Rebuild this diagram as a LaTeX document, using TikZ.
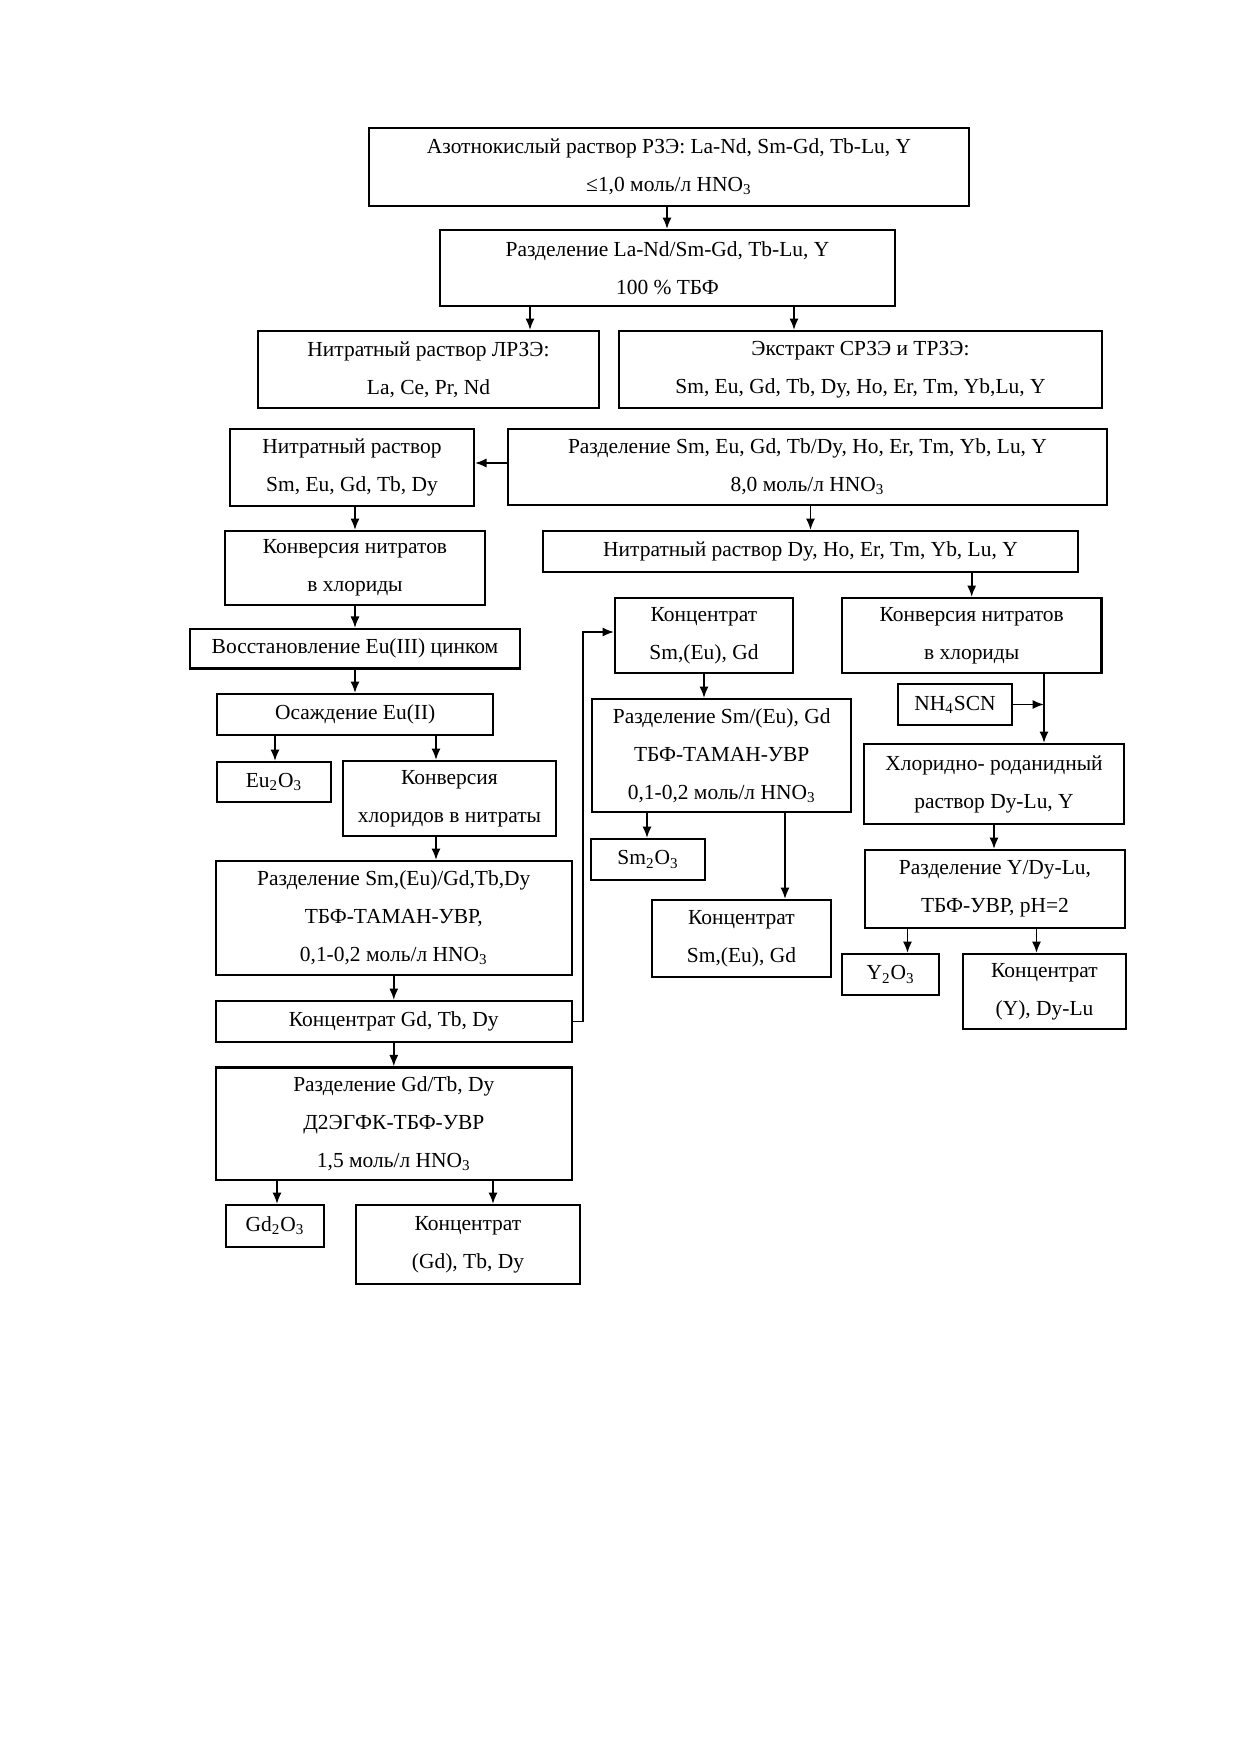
\documentclass[tikz,border=0pt]{standalone}
\usepackage{fontspec}
\setmainfont{Liberation Serif}
\usetikzlibrary{arrows.meta}

\begin{document}
\begin{tikzpicture}[x=0.48pt, y=-0.48pt, >={Latex[length=5.5pt,width=4.4pt]},
    blk/.style 2 args={draw, line width=1pt, minimum width=#1*0.48pt,
        minimum height=#2*0.48pt, inner sep=0pt, align=center,
        font=\fontsize{10.3}{18.2}\selectfont},
    arr/.style={->, line width=0.9pt}]

            \useasboundingbox (0,0) rectangle (1240,1754);

            \node[blk={600}{78}] (src) at (669,167)
            {Азотнокислый раствор РЗЭ: La-Nd, Sm-Gd, Tb-Lu, Y\\ ≤1,0 моль/л HNO\textsubscript{3}};
            \node[blk={455}{76}] (sepa) at (667.5,268)
            {Разделение La-Nd/Sm-Gd, Tb-Lu, Y\\ 100 \% ТБФ};
            \node[blk={341}{77}] (lrze) at (428.5,369.5)
            {Нитратный раствор ЛРЗЭ:\\ La, Ce, Pr, Nd};
            \node[blk={483}{77}] (extr) at (860.5,369.5)
            {Экстракт СРЗЭ и ТРЗЭ:\\ Sm, Eu, Gd, Tb, Dy, Ho, Er, Tm, Yb,Lu, Y};

            \node[blk={244}{77}] (nitr) at (352,467.5)
            {Нитратный раствор\\ Sm, Eu, Gd, Tb, Dy};
            \node[blk={599}{76}] (sepb) at (807.5,467)
            {Разделение Sm, Eu, Gd, Tb/Dy, Ho, Er, Tm, Yb, Lu, Y\\ 8,0 моль/л HNO\textsubscript{3}};
            \node[blk={535}{41}] (nitrdy) at (810.5,551.5)
            {Нитратный раствор Dy, Ho, Er, Tm, Yb, Lu, Y};

            % left column
            \node[blk={260}{74}] (convl) at (355,568)
            {Конверсия нитратов\\ в хлориды};
            \node[blk={330}{39.5}] (redeu) at (355,648.7)
            {Восстановление Eu(III) цинком};
            \node[blk={275.5}{41}] (preceu) at (355.2,714.5)
            {Осаждение Eu(II)};
            \node[blk={114}{40}] (euox) at (274,782)
            {Eu\textsubscript{2}O\textsubscript{3}};
            \node[blk={213}{75}] (convcl) at (449.5,798.5)
            {Конверсия\\ хлоридов в нитраты};
            \node[blk={356}{114}] (sepc) at (393.8,918)
            {Разделение Sm,(Eu)/Gd,Tb,Dy\\ ТБФ-ТАМАН-УВР,\\ 0,1-0,2 моль/л HNO\textsubscript{3}};
            \node[blk={356}{41}] (concgd) at (393.8,1021.5)
            {Концентрат Gd, Tb, Dy};
            \node[blk={356}{112.5}] (sepd) at (393.8,1123.7)
            {Разделение Gd/Tb, Dy\\ Д2ЭГФК-ТБФ-УВР\\ 1,5 моль/л HNO\textsubscript{3}};
            \node[blk={98}{42}] (gdox) at (275,1226)
            {Gd\textsubscript{2}O\textsubscript{3}};
            \node[blk={224}{79}] (conctb) at (468,1244.5)
            {Концентрат\\ (Gd), Tb, Dy};

            % middle column
            \node[blk={178}{75}] (concsm) at (704,635.5)
            {Концентрат\\ Sm,(Eu), Gd};
            \node[blk={259.5}{113}] (sepe) at (721.7,755.5)
            {Разделение Sm/(Eu), Gd\\ ТБФ-ТАМАН-УВР\\ 0,1-0,2 моль/л HNO\textsubscript{3}};
            \node[blk={114}{41}] (smox) at (648,859.5)
            {Sm\textsubscript{2}O\textsubscript{3}};
            \node[blk={179}{77}] (concsmb) at (741.5,938.5)
            {Концентрат\\ Sm,(Eu), Gd};

            % right column
            \node[blk={259.5}{75}] (convr) at (971.7,635.5)
            {Конверсия нитратов\\ в хлориды};
            \node[blk={114}{41}] (scn) at (955,704.5)
            {NH\textsubscript{4}SCN};
            \node[blk={260}{80}] (chlor) at (994,784)
            {Хлоридно- роданидный\\ раствор Dy-Lu, Y};
            \node[blk={260}{78}] (sepf) at (995,889)
            {Разделение Y/Dy-Lu,\\ ТБФ-УВР, pH=2};
            \node[blk={96.5}{41}] (yox) at (890.7,974.5)
            {Y\textsubscript{2}O\textsubscript{3}};
            \node[blk={163}{75}] (concy) at (1044.5,991.5)
            {Концентрат\\ (Y), Dy-Lu};

            \draw[arr] (src.south -| 667,0) -- (sepa.north -| 667,0);
            \draw[arr] (sepa.south -| 530,0) -- (lrze.north -| 530,0);
            \draw[arr] (sepa.south -| 794,0) -- (extr.north -| 794,0);
            \draw[arr] (sepb.west |- 0,463) -- (nitr.east |- 0,463);
            \draw[arr] (sepb.south -| nitrdy.north) -- (nitrdy.north);
            \draw[arr] (nitr.south -| convl.north) -- (convl.north);
            \draw[arr] (convl.south) -- (redeu.north);
            \draw[arr] (redeu.south) -- (preceu.north -| redeu.south);
            \draw[arr] (preceu.south -| 275,0) -- (euox.north -| 275,0);
            \draw[arr] (preceu.south -| 436,0) -- (convcl.north -| 436,0);
            \draw[arr] (convcl.south -| 436,0) -- (sepc.north -| 436,0);
            \draw[arr] (sepc.south) -- (concgd.north);
            \draw[arr] (concgd.south) -- (sepd.north);
            \draw[arr] (sepd.south -| 277,0) -- (gdox.north -| 277,0);
            \draw[arr] (sepd.south -| 493,0) -- (conctb.north -| 493,0);
            \draw[arr] (concgd.east) -- (concgd.east -| 583,0) |- (concsm.west |- 0,632);

            \draw[arr] (nitrdy.south -| convr.north) -- (convr.north);
            \draw[arr] (concsm.south) -- (concsm.south |- sepe.north);
            \draw[arr] (sepe.south -| 647,0) -- (smox.north -| 647,0);
            \draw[arr] (sepe.south -| 785,0) -- (concsmb.north -| 785,0);

            \draw[arr] (convr.south -| 1044,0) -- (chlor.north -| 1044,0);
            \draw[arr] (scn.east) -- (scn.east -| 1044,0);
            \draw[arr] (chlor.south) -- (sepf.north -| chlor.south);
            \draw[arr] (sepf.south -| 907.5,0) -- (yox.north -| 907.5,0);
            \draw[arr] (sepf.south -| 1036.5,0) -- (concy.north -| 1036.5,0);
        \end{tikzpicture}
\end{document}
